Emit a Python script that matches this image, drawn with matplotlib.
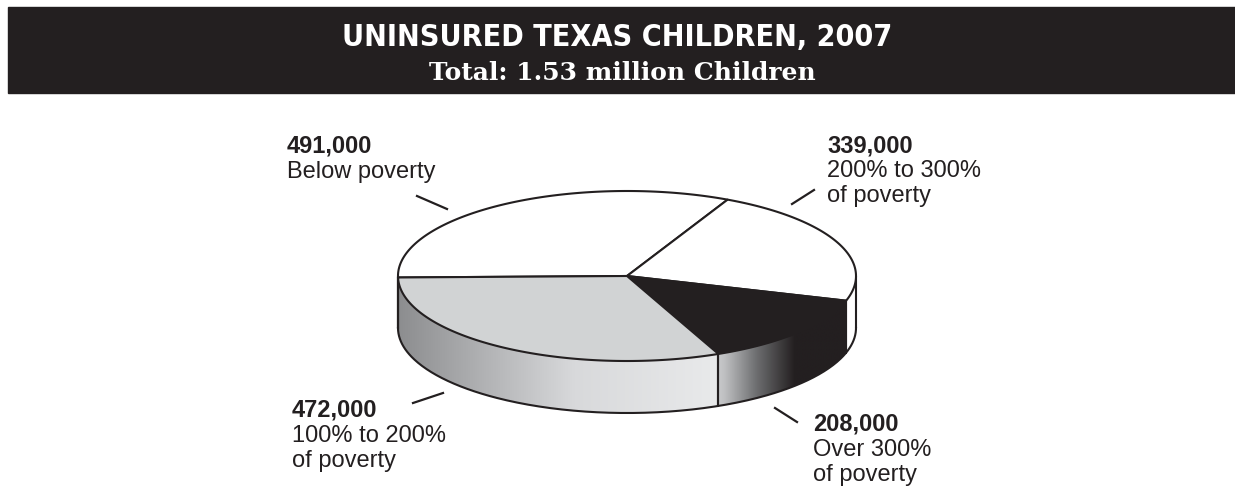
import numpy as np
import matplotlib
matplotlib.use('Agg')
import matplotlib.pyplot as plt
from matplotlib.patches import Polygon, Rectangle
from matplotlib.colors import to_rgb

# ---------------- data ----------------
categories = ['Below poverty', '200% to 300%\nof poverty', 'Over 300%\nof poverty', '100% to 200%\nof poverty']
values = [491000, 339000, 208000, 472000]
value_labels = ['491,000', '339,000', '208,000', '472,000']
title = 'UNINSURED TEXAS CHILDREN, 2007'
subtitle = 'Total: 1.53 million Children'

# ---------------- style ----------------
INK = '#231f20'
top_colors = ['#ffffff', '#ffffff', INK, '#d1d3d4']
# side gradient stops as (fraction across the slice's visible side, color)
side_stops = [
    [(0, '#ffffff'), (1, '#ffffff')],
    [(0, '#ffffff'), (1, '#ffffff')],
    [(0, '#c8c9cb'), (0.05, '#bfc0c2'), (0.3, '#6d6e70'), (0.6, INK), (1, INK)],
    [(0, '#8c8d8f'), (0.55, '#d8d9db'), (1, '#e9eaeb')],
]
label_pos = [(287, 152, 26), (827, 152, 25), (813, 431, 25), (292, 417, 25)]
leaders = [((417, 197), (447, 210)), ((792, 205), (814, 191)),
           ((775, 409), (797, 423)), ((413, 404), (443, 394))]

W, H = 1235, 489
fig = plt.figure(figsize=(W / 100, H / 100), dpi=100)
ax = fig.add_axes([0, 0, 1, 1])

# header band
ax.add_patch(Rectangle((8, 8), W - 8, 86, color=INK, zorder=1))
ax.text(617, 37, title, color='white', ha='center', va='center', fontsize=21.8,
        fontweight='bold', family=['Liberation Sans Narrow', 'DejaVu Sans'], fontstretch='condensed')
ax.text(622, 73, subtitle, color='white', ha='center', va='center', fontsize=18,
        fontweight='bold', family=['DejaVu Serif'])

# pie geometry
cx, cy, rx, ry, depth = 627, 277, 229, 85, 52
start = 181.0
frac = np.array(values, dtype=float) / np.sum(values) * 360.0
ends = start - np.cumsum(frac)
starts = np.concatenate([[start], ends[:-1]])


def ex(t):
    return cx + rx * np.cos(np.radians(t))


def ey(t, d=0):
    return cy - ry * np.sin(np.radians(t)) + d


LW = 1.5

# side walls
for i in range(len(values)):
    a, b = ends[i], starts[i]  # a < b
    k = np.floor((a + 180) / 360)
    a -= 360 * k
    b -= 360 * k
    for lo, hi in [(-180, 0), (180, 360)]:
        s0, s1 = max(a, lo), min(b, hi)
        if s1 <= s0:
            continue
        t = np.linspace(s0, s1, 200)
        xs = np.concatenate([ex(t), ex(t[::-1])])
        ys = np.concatenate([ey(t), ey(t[::-1], depth)])
        poly = Polygon(np.column_stack([xs, ys]), closed=True, facecolor='none',
                       edgecolor='none', zorder=2)
        ax.add_patch(poly)
        xmin, xmax = xs.min(), xs.max()
        ymin, ymax = ys.min(), ys.max()
        n = 400
        uu = np.linspace(0, 1, n)
        st = side_stops[i]
        pos = [p for p, _ in st]
        cols = np.array([to_rgb(c) for _, c in st])
        img = np.stack([np.interp(uu, pos, cols[:, j]) for j in range(3)], axis=-1)
        img = np.repeat(img[None, :, :], 2, axis=0)
        im = ax.imshow(img, extent=[xmin, xmax, ymax, ymin], origin='upper',
                       interpolation='bilinear', zorder=2, aspect='auto')
        im.set_clip_path(poly)
        for tt in (s0, s1):
            ax.plot([ex(tt), ex(tt)], [ey(tt), ey(tt, depth)], color=INK, lw=LW,
                    zorder=3, solid_capstyle='round')

# bottom arc outline
tb = np.linspace(180, 360, 300)
ax.plot(ex(tb), ey(tb, depth), color=INK, lw=LW, zorder=3)

# top wedges
for i in range(len(values)):
    t = np.linspace(starts[i], ends[i], 300)
    xs = np.concatenate([[cx], ex(t)])
    ys = np.concatenate([[cy], ey(t)])
    ax.add_patch(Polygon(np.column_stack([xs, ys]), closed=True, facecolor=top_colors[i],
                         edgecolor=INK, lw=LW, joinstyle='round', zorder=4))

# labels
for i in range(len(values)):
    x, yb, sp = label_pos[i]
    ax.text(x, yb, value_labels[i], fontsize=17, fontweight='bold', color=INK,
            family=['Liberation Sans'], va='baseline', ha='left')
    for j, line in enumerate(categories[i].split('\n')):
        ax.text(x, yb + sp * (j + 1), line, fontsize=17, color=INK,
                family=['Liberation Sans'], va='baseline', ha='left')
    (x0, y0), (x1, y1) = leaders[i]
    ax.plot([x0, x1], [y0, y1], color=INK, lw=1.6)

ax.set_xlim(0, W)
ax.set_ylim(H, 0)
ax.axis('off')
fig.savefig('out.png', dpi=100, facecolor='white')
